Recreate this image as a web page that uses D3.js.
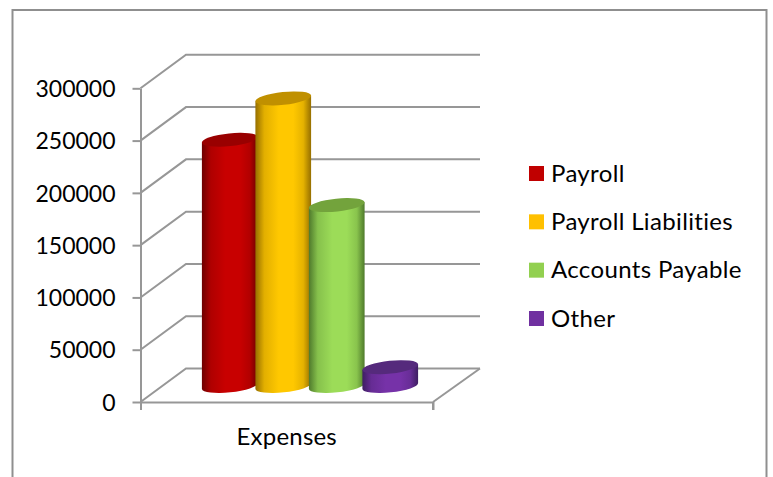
<!DOCTYPE html>
<html><head><meta charset="utf-8">
<script src="https://cdn.jsdelivr.net/npm/d3@7"></script>
<style>html,body{margin:0;padding:0;background:#fff}svg{display:block}text{font-family:Lato,"Open Sans",sans-serif;fill:#000;font-variant-ligatures:none}</style>
</head><body><svg id="c" width="773" height="477"></svg>
<script>
const categories = ["Expenses"];
const seriesNames = ["Payroll","Payroll Liabilities","Accounts Payable","Other"];
const seriesValues = [235500,275000,173000,18000];
const tickValues = [0,50000,100000,150000,200000,250000,300000];
const fills = ["#c80000","#ffc800","#9cdc58","#7632a8"];
const legendFills = ["#c00000","#ffc000","#92d050","#7030a0"];
const edgeDark = ["#6e0000","#966f00","#4f7a2c","#3e1e62"];
const topFills = ["#990000","#c09000","#73a33c","#552a7c"];

const svg = d3.select("#c");
const grey = "#979797";
svg.append("path").attr("d","M12.5,477V10H766.5V477").attr("fill","none").attr("stroke","#8f8f8f").attr("stroke-width",2);

const y = d3.scaleLinear().domain([0,300000]).range([402,88.3]);
const x = d3.scaleBand().domain(categories).range([140.5,433]);
const dx = 45.5, dy = -33.5, baseShift = -16;
const xBar = d3.scaleBand().domain(seriesNames).range([202,416]);

// walls and floor
const walls = svg.append("g").attr("fill","none").attr("stroke",grey).attr("stroke-width",2);
tickValues.forEach(t=>{
  walls.append("path").attr("d",`M${x.range()[0]},${y(t)}L${x.range()[0]+dx},${y(t)+dy}L480,${y(t)+dy}`);
});
walls.append("path").attr("d",`M480,${y(0)+dy}L${x.range()[1]},${y(0)}`);
walls.append("path").attr("d",`M${x.range()[1]},${y(0)}V410`);

// axes
const yAxis = svg.append("g").attr("transform",`translate(${x.range()[0]},0)`)
  .call(d3.axisLeft(y).tickValues(tickValues).tickFormat(d3.format("d")).tickSize(8).tickPadding(17).tickSizeOuter(0));
yAxis.selectAll("path,line").attr("stroke",grey).attr("stroke-width",2);
yAxis.selectAll("text").attr("font-size",23).attr("dy","0.36em").style("font-family","Lato");

const xAxis = svg.append("g").attr("transform",`translate(0,${y(0)})`)
  .call(d3.axisBottom(x).tickSize(0).tickPadding(26).tickSizeOuter(8));
xAxis.selectAll("path").attr("stroke",grey).attr("stroke-width",2);
xAxis.selectAll("text").attr("font-size",24).attr("letter-spacing",0.2).attr("dy","0.71em").style("font-family","Lato");

// gradients
const defs = svg.append("defs");
fills.forEach((f,i)=>{
  const g = defs.append("linearGradient").attr("id","g"+i);
  [[0,edgeDark[i]],[.16,d3.interpolateRgb(edgeDark[i],f)(.72)],[.42,f],[.68,f],[.86,d3.interpolateRgb(edgeDark[i],f)(.75)],[1,edgeDark[i]]].forEach(s=>
    g.append("stop").attr("offset",s[0]).attr("stop-color",s[1]));
});

// cylinders
const rx = 28, ry = 6.4, rot = -6, a = rx*Math.cos(rot*Math.PI/180), b = rx*Math.sin(-rot*Math.PI/180);
const barG = svg.append("g");
seriesNames.forEach((n,i)=>{
  const cx = xBar(n)+xBar.bandwidth()/2 + 1;
  const yTop = y(seriesValues[i])+baseShift, yBase = y(0)+baseShift;
  barG.append("path")
    .attr("d",`M${cx-a},${yTop+b}L${cx-a},${yBase+b}A${rx},${ry} ${rot} 0 0 ${cx+a},${yBase-b}L${cx+a},${yTop-b}Z`)
    .attr("fill",`url(#g${i})`);
  barG.append("ellipse").attr("cx",0).attr("cy",0).attr("rx",rx).attr("ry",ry)
    .attr("transform",`translate(${cx},${yTop}) rotate(${rot})`).attr("fill",topFills[i]);
});

// legend
const legendY = d3.scalePoint().domain(seriesNames).range([173.5,318.5]);
const lg = svg.append("g");
seriesNames.forEach((n,i)=>{
  lg.append("rect").attr("x",529).attr("y",legendY(n)-7.5).attr("width",15).attr("height",15).attr("fill",legendFills[i]);
  lg.append("text").attr("x",551).attr("y",legendY(n)).attr("dy","0.34em").attr("font-size",24).attr("letter-spacing",0.35).text(n);
});
</script></body></html>
